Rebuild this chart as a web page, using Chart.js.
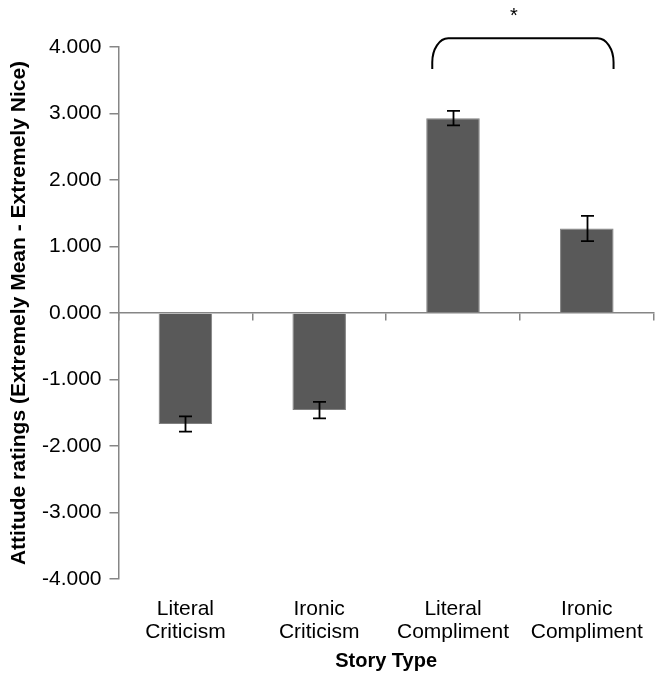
<!DOCTYPE html>
<html>
<head>
<meta charset="utf-8">
<script src="https://cdn.jsdelivr.net/npm/chart.js@4/dist/chart.umd.min.js"></script>
<style>
html, body { margin: 0; padding: 0; overflow: hidden; background: #fff; }
canvas { display: block; }
</style>
</head>
<body>
<canvas id="c" width="662" height="673"></canvas>
<script>
const categories = [["Literal", "Criticism"], ["Ironic", "Criticism"], ["Literal", "Compliment"], ["Ironic", "Compliment"]];
const means = [-1.67, -1.46, 2.93, 1.27];
const errors = [0.115, 0.125, 0.11, 0.19];
const yTicks = [-4, -3, -2, -1, 0, 1, 2, 3, 4];
const yTitle = "Attitude ratings (Extremely Mean - Extremely Nice)";
const xTitle = "Story Type";
const sigLabel = "*";

const FONT = "'Liberation Sans', Arial, sans-serif";
const AXIS = '#868686';

const errorBars = {
  id: 'errorBars',
  afterDatasetsDraw(chart) {
    const ctx = chart.ctx;
    const y = chart.scales.y;
    const meta = chart.getDatasetMeta(0);
    ctx.save();
    ctx.strokeStyle = '#000';
    ctx.lineWidth = 1.8;
    meta.data.forEach((bar, i) => {
      const top = y.getPixelForValue(means[i] + errors[i]);
      const bot = y.getPixelForValue(means[i] - errors[i]);
      const cx = Math.round(bar.x) + 0.5;
      const w = 6.5;
      ctx.beginPath();
      ctx.moveTo(cx, top); ctx.lineTo(cx, bot);
      ctx.moveTo(cx - w, top); ctx.lineTo(cx + w, top);
      ctx.moveTo(cx - w, bot); ctx.lineTo(cx + w, bot);
      ctx.stroke();
    });
    // significance bracket between the two compliment bars
    const x = chart.scales.x;
    const cw = x.getPixelForValue(1) - x.getPixelForValue(0);
    const left = x.getPixelForValue(2) - 0.155 * cw;
    const right = x.getPixelForValue(3) + 0.2 * cw;
    const top = y.getPixelForValue(4.13);
    const bot = y.getPixelForValue(3.67);
    const rx = 16, ry = 24;
    ctx.lineWidth = 2;
    ctx.beginPath();
    ctx.moveTo(left, bot);
    ctx.lineTo(left, top + ry);
    ctx.bezierCurveTo(left, top + ry * 0.45, left + rx * 0.45, top, left + rx, top);
    ctx.lineTo(right - rx, top);
    ctx.bezierCurveTo(right - rx * 0.45, top, right, top + ry * 0.45, right, top + ry);
    ctx.lineTo(right, bot);
    ctx.stroke();
    ctx.fillStyle = '#000';
    ctx.font = '20px ' + FONT;
    ctx.textAlign = 'center';
    ctx.textBaseline = 'middle';
    ctx.fillText(sigLabel, x.getPixelForValue(2.5) - 0.045 * cw, y.getPixelForValue(4.46));
    ctx.restore();
  }
};

new Chart(document.getElementById('c'), {
  type: 'bar',
  data: {
    labels: categories,
    datasets: [{
      data: means,
      backgroundColor: '#595959',
      borderColor: '#808080',
      borderWidth: 1,
      barPercentage: 0.4,
      categoryPercentage: 1.0
    }]
  },
  options: {
    responsive: false,
    animation: false,
    devicePixelRatio: 1,
    layout: { padding: { top: 47, right: 1.5, bottom: 0, left: 0 } },
    plugins: { legend: { display: false }, tooltip: { enabled: false } },
    scales: {
      x: {
        offset: true,
        grid: { display: false, drawTicks: false },
        border: { display: false },
        ticks: {
          color: '#000',
          font: { family: FONT, size: 21, lineHeight: 1.1 },
          padding: 19,
          maxRotation: 0,
          autoSkip: false
        },
        title: {
          display: true,
          text: xTitle,
          color: '#000',
          font: { family: FONT, size: 20, weight: 'bold' },
          padding: { top: 0, bottom: 0 }
        },
        afterFit(s) { s.height = 94; }
      },
      x2: {
        type: 'category',
        labels: categories,
        position: { y: 0 },
        offset: true,
        grid: { offset: true, drawOnChartArea: false, tickLength: 7, color: AXIS, lineWidth: 1.5 },
        border: { color: AXIS, width: 1.5 },
        ticks: { display: false }
      },
      y: {
        min: -4,
        max: 4,
        afterBuildTicks(s) { s.ticks = yTicks.map(v => ({ value: v })); },
        grid: { drawOnChartArea: false, tickLength: 9, color: AXIS, lineWidth: 1.5 },
        border: { color: AXIS, width: 1.5 },
        ticks: {
          color: '#000',
          font: { family: FONT, size: 21 },
          padding: 8,
          callback: v => Number(v).toFixed(3)
        },
        title: {
          display: true,
          text: yTitle,
          color: '#000',
          font: { family: FONT, size: 21, weight: 'bold' },
          padding: { top: 7, bottom: 0 }
        },
        afterFit(s) { s.width = 118.5; }
      }
    }
  },
  plugins: [errorBars]
});
</script>
</body>
</html>
